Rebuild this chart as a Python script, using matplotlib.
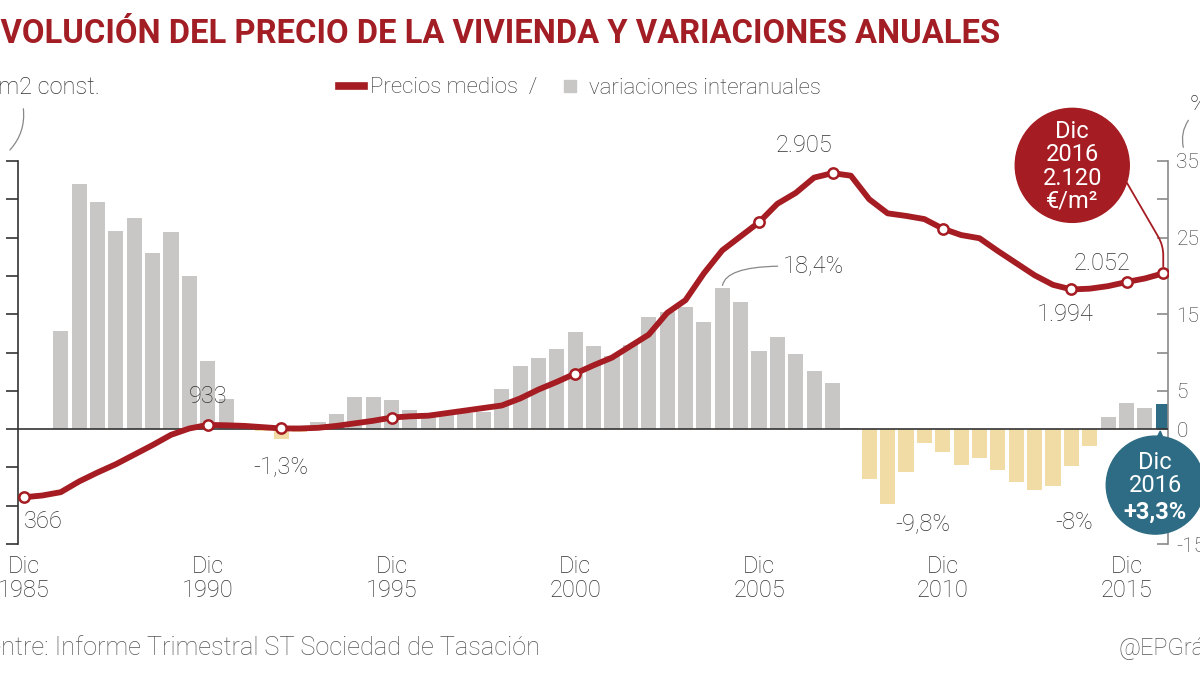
import matplotlib
matplotlib.use('Agg')
import matplotlib.pyplot as plt
import numpy as np
from matplotlib.lines import Line2D
from matplotlib.patches import Circle, Polygon
from matplotlib.transforms import Affine2D, ScaledTranslation

plt.rcParams['font.family'] = ['Roboto', 'DejaVu Sans']
plt.rcParams['font.weight'] = 'light'

# semiannual data, Dec of year Y -> Y, Jun of year Y -> Y - 0.5
price_x = np.arange(1985, 2016.01, 0.5)
price = [366, 380, 406, 490, 560, 625, 700, 775, 855, 905,
         933, 930, 925, 915, 905, 905, 910, 925, 945, 965,
         990, 1000, 1005, 1025, 1045, 1065, 1085, 1140, 1210, 1270,
         1335, 1400, 1460, 1550, 1640, 1810, 1910, 2120, 2300, 2410,
         2520, 2665, 2750, 2870, 2905, 2885, 2700, 2590, 2570, 2545,
         2470, 2420, 2395, 2295, 2200, 2105, 2030, 1994, 2000, 2020,
         2052, 2080, 2120]

var_x = np.arange(1986, 2016.01, 0.5)
variation = [12.8, 32.0, 29.6, 25.8, 27.5, 23.0, 25.7, 20.0, 8.9, 3.9,
             0.3, -0.3, -1.3, -0.4, 0.9, 2.0, 4.2, 4.2, 3.8, 2.5,
             2.0, 2.0, 2.1, 2.2, 5.2, 8.2, 9.3, 10.4, 12.7, 10.8,
             9.5, 11.0, 14.6, 15.3, 15.9, 14.0, 18.4, 16.6, 10.2, 12.0,
             9.8, 7.6, 6.0, 0.2, -6.5, -9.8, -5.6, -1.8, -3.0, -4.7,
             -3.8, -5.4, -6.9, -8.0, -7.4, -4.8, -2.2, 1.6, 3.4, 2.7,
             3.3]

marked_dates = [1985, 1990, 1992, 1995, 2000, 2005, 2007, 2010, 2013.5, 2015, 2016]
tick_years = [1985, 1990, 1995, 2000, 2005, 2010, 2015]
right_labels = {35: '35', 25: '25', 15: '15', 5: '5', 0: '0', -15: '-15'}

RED = '#a51c22'
GRAY = '#c9c7c5'
SAND = '#f1dca6'
BLUE = '#2d6c84'
TXT = '#333333'

W, H = 1200, 675
fig = plt.figure(figsize=(12, 6.75), dpi=100)


def fx(px):
    return px / W


def fy(py):
    return 1 - py / H


def pixel_offset(ax, xy, dx, dy):
    # transform: pixel offsets around a data point
    return Affine2D().translate(dx, dy) + ScaledTranslation(xy[0], xy[1], ax.transData)


rect = [fx(18), fy(544), fx(1168) - fx(18), fy(161) - fy(544)]
ax_bar = fig.add_axes(rect)
ax_line = fig.add_axes(rect, sharex=ax_bar)
ax_line.patch.set_visible(False)

# bars: yearly variation (%)
colors = [GRAY if v >= 0 else SAND for v in variation]
colors[-1] = BLUE
ax_bar.bar(var_x, variation, width=0.41, color=colors, zorder=2)
ax_bar.axhline(0, color='#333333', lw=1.2, zorder=3)
ax_bar.set_ylim(-15, 35)
ax_bar.set_xlim(1985 - 6 / 36.75, 1985 + 1144 / 36.75)
yt = np.arange(-15, 36, 5)
ax_bar.set_yticks(yt)
ax_bar.set_yticklabels([right_labels.get(int(v), '') for v in yt])
ax_bar.yaxis.tick_right()
ax_bar.tick_params(axis='y', direction='in', length=8, width=1.2, color='#8a8a8a',
                   pad=6, labelsize=15, labelcolor=TXT)
ax_bar.set_xticks(tick_years)
ax_bar.set_xticklabels([f'Dic\n{y}' for y in tick_years], linespacing=1.05)
ax_bar.tick_params(axis='x', length=0, pad=8, labelsize=17, labelcolor=TXT)
for s in ['top', 'left', 'bottom']:
    ax_bar.spines[s].set_visible(False)
ax_bar.spines['right'].set_color('#8a8a8a')
ax_bar.spines['right'].set_linewidth(1.2)

# line: mean price
ax_line.plot(price_x, price, color=RED, lw=4.2, solid_capstyle='round', zorder=3)
mark_y = [price[list(price_x).index(d)] for d in marked_dates]
ax_line.scatter(marked_dates, mark_y, s=55, facecolor='white', edgecolor=RED,
                linewidth=1.8, zorder=4)
ax_line.set_ylim(0, 3000)
ax_line.set_yticks(np.arange(0, 3001, 300))
ax_line.set_yticklabels([])
ax_line.tick_params(axis='y', direction='out', length=9, width=1.2, color='#333333')
ax_line.tick_params(axis='x', bottom=False, labelbottom=False)
for s in ['top', 'right', 'bottom']:
    ax_line.spines[s].set_visible(False)
ax_line.spines['left'].set_color('#333333')
ax_line.spines['left'].set_linewidth(1.2)

# value labels
lab = dict(textcoords='offset pixels', ha='center', va='center', fontsize=17, color=TXT)
ax_line.annotate('366', xy=(1985, 366), xytext=(19, -24), **lab)
ax_line.annotate('933', xy=(1990, 933), xytext=(0, 28), **lab)
ax_line.annotate('-1,3%', xy=(1992, 905), xytext=(0, -39), **lab)
ax_line.annotate('2.905', xy=(2007, 2905), xytext=(-29, 28), **lab)
ax_line.annotate('1.994', xy=(2013.5, 1994), xytext=(-6, -25), **lab)
ax_line.annotate('2.052', xy=(2015, 2052), xytext=(-25, 19), **lab)
ax_bar.annotate('-9,8%', xy=(2009.5, -9.8), xytext=(-2, -19), **lab)
ax_bar.annotate('-8%', xy=(2013.5, -8.0), xytext=(3, -32), **lab)
ax_bar.annotate('18,4%', xy=(2004, 18.4), xytext=(61, 22), textcoords='offset pixels',
                ha='left', va='center', fontsize=17, color=TXT,
                arrowprops=dict(arrowstyle='-', color='#888888', lw=0.9, relpos=(0, 0.5),
                                connectionstyle='angle3,angleA=0,angleB=90',
                                shrinkA=2, shrinkB=2))

# red bubble: last price
last_price = (price_x[-1], price[-1])
red_circle = Circle((0, 0), 57, transform=pixel_offset(ax_line, last_price, -91, 108),
                    color=RED, clip_on=False, zorder=6)
ax_line.add_patch(red_circle)
ax_line.annotate('Dic\n2016\n2.120\n€/m²', xy=last_price, xytext=(-91, 107),
                 textcoords='offset pixels', ha='center', va='center', fontsize=17,
                 fontweight='normal', color='white', linespacing=1.02, zorder=7)
ax_line.annotate('', xy=last_price, xytext=(-91, 102), textcoords='offset pixels',
                 arrowprops=dict(arrowstyle='-', color=RED, lw=1.3, patchA=red_circle,
                                 connectionstyle='arc,angleA=0,armA=48,angleB=90,armB=28,rad=10',
                                 shrinkA=0, shrinkB=5))

# blue bubble: last variation
last_var = (var_x[-1], 0)
tr = pixel_offset(ax_bar, last_var, 0, 0)
ax_bar.add_patch(Circle((-8, -56), 49, transform=tr, color=BLUE, clip_on=False, zorder=6))
ax_bar.add_patch(Polygon([(-9, -14), (2, -14), (-3, -2)], closed=True, transform=tr,
                         color=BLUE, clip_on=False, zorder=6))
ax_bar.annotate('Dic\n2016', xy=last_var, xytext=(-8, -45), textcoords='offset pixels',
                ha='center', va='center', fontsize=17, fontweight='normal', color='white',
                linespacing=1.0, zorder=7)
ax_bar.annotate('+3,3%', xy=last_var, xytext=(-8, -83), textcoords='offset pixels',
                ha='center', va='center', fontsize=17, color='white', fontweight='bold',
                zorder=7)

# axis captions with curved leaders
fig.text(fx(100), fy(87), '€/m2 const.', ha='right', va='center', fontsize=17, color=TXT)
fig.text(fx(1190), fy(106), '%', ha='left', va='center', fontsize=17, color=TXT)
ax_line.annotate('', xy=(8, H - 152), xytext=(23, H - 106), xycoords='figure pixels',
                 textcoords='figure pixels',
                 arrowprops=dict(arrowstyle='-', color='#888888', lw=0.9,
                                 connectionstyle='arc3,rad=-0.25'))
ax_line.annotate('', xy=(1184, H - 150), xytext=(1190, H - 118), xycoords='figure pixels',
                 textcoords='figure pixels',
                 arrowprops=dict(arrowstyle='-', color='#888888', lw=0.9,
                                 connectionstyle='arc3,rad=0.25'))

# title, legend, footer
fig.text(fx(1000), fy(34), 'EVOLUCIÓN DEL PRECIO DE LA VIVIENDA Y VARIACIONES ANUALES',
         ha='right', va='center', fontsize=23.6, fontweight='bold', color='#a31d24')
handles = [Line2D([], [], color=RED, lw=5.5),
           Line2D([], [], marker='s', color=GRAY, linestyle='none', markersize=9)]
fig.legend(handles, ['Precios medios  /', 'variaciones interanuales'], loc='center',
           bbox_to_anchor=(fx(580), fy(88)), ncol=2, frameon=False, fontsize=16,
           handlelength=1.1, handletextpad=0.3, columnspacing=0.9, labelcolor=TXT)
fig.text(fx(540), fy(648), 'Fuentre: Informe Trimestral ST Sociedad de Tasación',
         ha='right', va='center', fontsize=18.2, color='#555555')
fig.text(fx(1118), fy(648), '@EPGráfico', ha='left', va='center', fontsize=17, color='#555555')

fig.savefig('out.png', dpi=100)
